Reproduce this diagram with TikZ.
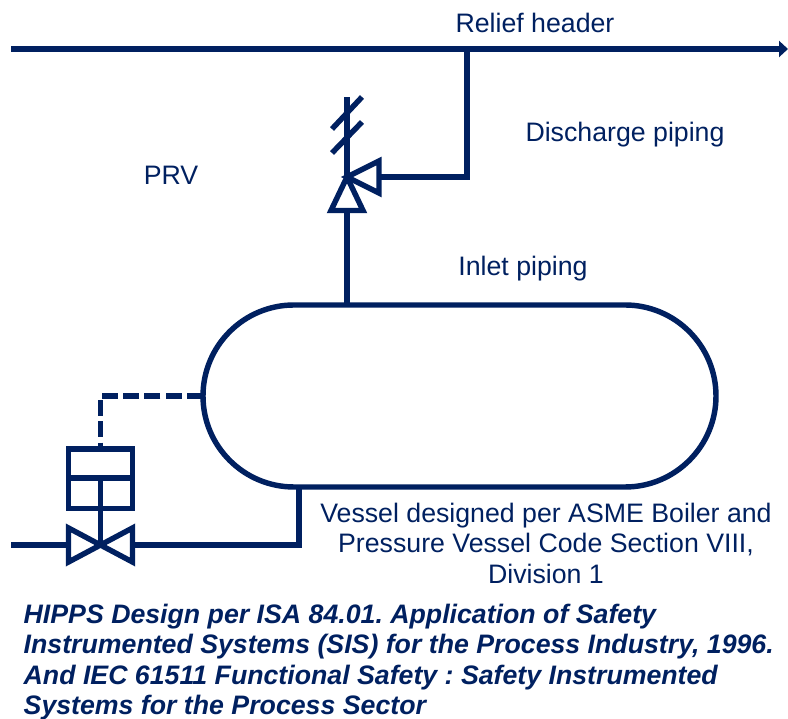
\documentclass[tikz,border=0pt]{standalone}
\usepackage{fontspec}
\setmainfont{Liberation Sans}
\usetikzlibrary{arrows.meta}
\definecolor{pipeblue}{HTML}{002060}
\frenchspacing
\tikzset{
	pipe/.style={draw=pipeblue,line width=1.55pt},
	label/.style={text=pipeblue,font=\fontsize{7.6}{8.8}\selectfont,inner sep=0pt},
	note/.style={text=pipeblue,font=\fontsize{7.6}{8.7}\selectfont\bfseries\itshape,inner sep=0pt,align=left,anchor=north west}
}
\begin{document}
\begin{tikzpicture}
			\useasboundingbox (0,0) rectangle (7.88,7.19);

			\node[label] (relief) at (5.35,6.96) {Relief header};
			\node[label] (discharge) at (6.25,5.84) {Discharge piping};
			\node[label] (prv) at (1.71,5.44) {PRV};
			\node[label] (inlet) at (5.23,4.5) {Inlet piping};
			\node[label,align=center,anchor=north] (code) at (5.46,2.17) {Vessel designed per ASME Boiler and\\Pressure Vessel Code Section VIII,\\Division 1};
			\node[note] (hipps) at (0.23,1.16) {HIPPS Design per ISA 84.01. Application of Safety\\Instrumented Systems (SIS) for the Process Industry, 1996.\\And IEC 61511 Functional Safety : Safety Instrumented\\Systems for the Process Sector};

			\node[pipe,rectangle,rounded corners=0.91cm,minimum width=5.13cm,minimum height=1.82cm,outer sep=0pt,inner sep=0pt] (vessel) at (4.595,3.23) {};

			\coordinate (headerL) at (0.11,6.7);
			\coordinate (headerR) at (7.88,6.7);
			\coordinate (tee) at (4.67,6.7);
			\coordinate (bend) at (4.67,5.42);
			\coordinate (seat) at (3.47,5.42);
			\coordinate (stemtop) at (3.47,6.22);
			\coordinate (dischargebase) at (3.79,5.42);
			\coordinate (inletbase) at (3.47,5.085);
			\coordinate (nozzle) at (3.47,4.14);

			% relief header and discharge line
			\draw[pipe,-{Triangle[length=0.9mm,width=1.6mm]}] (headerL) -- (headerR);
			\draw[pipe] (tee) -- (bend) -- (dischargebase);
			\draw[pipe] (inletbase) -- (nozzle);
			\draw[pipe] (seat) -- (stemtop);

			% relief valve
			\draw[pipe] (seat) -- (3.79,5.58) -- (3.79,5.26) -- cycle;
			\draw[pipe] (seat) -- (3.31,5.085) -- (3.63,5.085) -- cycle;
			\draw[pipe] (3.32,5.9) -- (3.62,6.22);
			\draw[pipe] (3.32,5.66) -- (3.62,5.97);

			% actuated valve
			\coordinate (sense) at (2.03,3.23);
			\coordinate (sensebend) at (1.005,3.23);
			\coordinate (boxtop) at (1.005,2.7);
			\coordinate (boxmid) at (1.005,2.41);
			\coordinate (plug) at (1.005,1.74);
			\coordinate (lineL) at (0.11,1.74);
			\coordinate (bodyL) at (0.685,1.74);
			\coordinate (bodyR) at (1.325,1.74);
			\coordinate (lineR) at (2.99,1.74);
			\coordinate (outlet) at (2.99,2.32);

			\draw[pipe,dash pattern=on 0.16cm off 0.053cm] (sense) -- (sensebend) -- (boxtop);
			\draw[pipe] (0.685,2.105) rectangle (1.325,2.7);
			\draw[pipe] (0.685,2.41) -- (1.325,2.41);
			\draw[pipe] (boxmid) -- (plug);
			\draw[pipe] (plug) -- (0.685,1.91) -- (0.685,1.57) -- cycle;
			\draw[pipe] (plug) -- (1.325,1.91) -- (1.325,1.57) -- cycle;
			\draw[pipe] (lineL) -- (bodyL);
			\draw[pipe] (bodyR) -- (lineR) -- (outlet);
		\end{tikzpicture}
\end{document}
